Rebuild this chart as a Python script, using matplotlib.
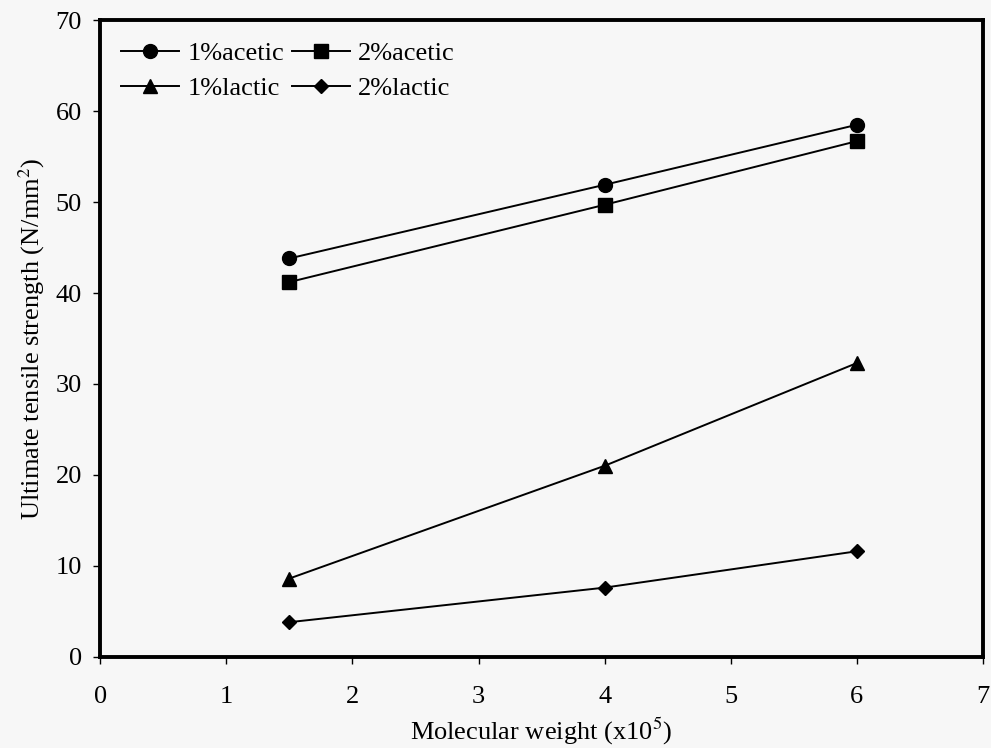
import matplotlib.pyplot as plt
import numpy as np

plt.rcParams['font.family'] = ['Liberation Serif', 'DejaVu Serif']
plt.rcParams['mathtext.fontset'] = 'stix'

# molecular weight (x10^5)
mw = [1.5, 4, 6]
acetic_1 = [43.8, 51.9, 58.5]
acetic_2 = [41.2, 49.7, 56.7]
lactic_1 = [8.6, 21.0, 32.3]
lactic_2 = [3.8, 7.6, 11.6]

fig = plt.figure(figsize=(9.91, 7.48), dpi=100)
fig.patch.set_facecolor('#f7f7f7')
ax = fig.add_axes([0.101, 0.122, 0.891, 0.851])
ax.set_facecolor('#f7f7f7')

lw = 1.4
h1, = ax.plot(mw, acetic_1, marker='o', color='black', linewidth=lw, markersize=10, label='1%acetic')
h2, = ax.plot(mw, acetic_2, marker='s', color='black', linewidth=lw, markersize=9.5, label='2%acetic')
h3, = ax.plot(mw, lactic_1, marker='^', color='black', linewidth=lw, markersize=10, label='1%lactic')
h4, = ax.plot(mw, lactic_2, marker='D', color='black', linewidth=lw, markersize=7.5, label='2%lactic')

ax.set_xlim(0, 7)
ax.set_ylim(0, 70)
ax.set_xticks(np.arange(0, 8, 1))
ax.set_yticks(np.arange(0, 80, 10))

for s in ax.spines.values():
    s.set_linewidth(2.8)
ax.tick_params(direction='out', length=5, width=1, labelsize=19)
ax.tick_params(axis='x', pad=16)
ax.tick_params(axis='y', pad=8)

ax.set_xlabel('Molecular weight (x10$^5$)', fontsize=19, labelpad=6)
ax.set_ylabel('Ultimate tensile strength (N/mm$^2$)', fontsize=19, labelpad=6)

# legend filled column-wise, so order handles to get rows acetic / lactic
ax.legend([h1, h3, h2, h4], ['1%acetic', '1%lactic', '2%acetic', '2%lactic'],
          loc='upper left', ncol=2, frameon=False, fontsize=19,
          handlelength=2.2, handletextpad=0.3, columnspacing=0.3,
          labelspacing=0.45, borderaxespad=0.4)

fig.savefig('out.png', dpi=100, facecolor=fig.get_facecolor())
